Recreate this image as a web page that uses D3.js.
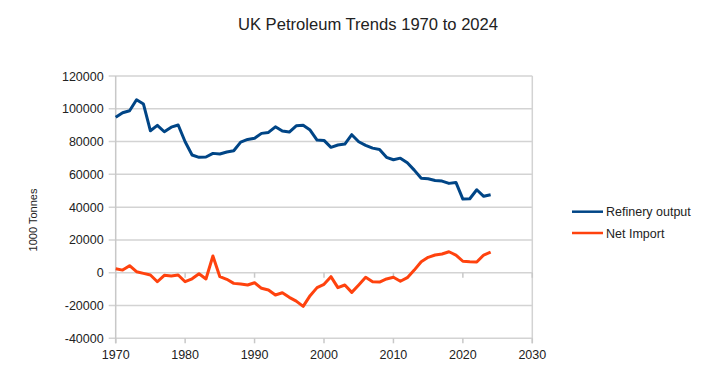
<!DOCTYPE html>
<html>
<head>
<meta charset="utf-8">
<script src="https://cdn.jsdelivr.net/npm/d3@7"></script>
<style>
  body { margin: 0; background: #fff; }
  text { font-family: "Liberation Sans", Arial, sans-serif; fill: #222; }
</style>
</head>
<body>
<script>
const years = d3.range(1970, 2025)
const refinery = [94800, 97600, 98800, 105500, 102900, 86600, 89900, 86000, 88800, 90100,
  79900, 71800, 70400, 70600, 72800, 72400, 73600, 74400, 79700, 81300,
  82000, 85000, 85600, 89000, 86400, 85800, 89600, 89900, 87000, 80900,
  80700, 76500, 77900, 78500, 84200, 79900, 77700, 76000, 75200, 70400,
  68900, 69900, 67100, 62600, 57600, 57300, 56300, 55900, 54500, 55100,
  44900, 45100, 50600, 46600, 47600]
const netImport = [2400, 1600, 4300, 600, -400, -1400, -5500, -1600, -2000, -1400,
  -5500, -3700, -600, -3800, 10200, -2400, -4000, -6500, -6900, -7500,
  -6100, -9500, -10500, -13600, -12200, -15000, -17300, -20500, -14000, -9100,
  -7100, -2400, -9100, -7500, -12000, -7500, -2800, -5500, -5700, -3800,
  -2800, -5200, -3000, 1600, 6700, 9400, 10800, 11400, 12800, 10800,
  7000, 6700, 6500, 10800, 12600]
const seriesNames = ['Refinery output', 'Net Import']
const seriesColors = ['#004586', '#ff420e']
const xTicks = d3.range(1970, 2031, 10)
const yTicks = d3.range(-40000, 120001, 20000)

const w = 720
const h = 373
const plotL = 115.7, plotR = 532.3, plotT = 76, plotB = 338.3

const svg = d3.select('body').append('svg')
  .attr('width', w)
  .attr('height', h)

const x = d3.scaleLinear().domain([1970, 2030]).range([plotL, plotR])
const y = d3.scaleLinear().domain([-40000, 120000]).range([plotB, plotT])

// gridlines
svg.append('g').selectAll('line')
  .data(yTicks)
  .enter().append('line')
  .attr('x1', plotL - 7).attr('x2', plotR)
  .attr('y1', d => y(d)).attr('y2', d => y(d))
  .attr('stroke', '#d3d3d3')
  .attr('stroke-width', 1.5)

// frame left / right
svg.append('line')
  .attr('x1', plotL).attr('x2', plotL).attr('y1', plotT).attr('y2', plotB + 5)
  .attr('stroke', '#c8c8c8').attr('stroke-width', 1.5)
svg.append('line')
  .attr('x1', plotR).attr('x2', plotR).attr('y1', plotT).attr('y2', plotB + 5)
  .attr('stroke', '#d3d3d3').attr('stroke-width', 1.5)

// x ticks at zero line and bottom
svg.append('g').selectAll('line')
  .data(xTicks)
  .enter().append('line')
  .attr('x1', d => x(d)).attr('x2', d => x(d))
  .attr('y1', y(0)).attr('y2', y(0) + 5)
  .attr('stroke', '#c8c8c8').attr('stroke-width', 1.5)
svg.append('g').selectAll('line')
  .data(xTicks)
  .enter().append('line')
  .attr('x1', d => x(d)).attr('x2', d => x(d))
  .attr('y1', plotB).attr('y2', plotB + 5)
  .attr('stroke', '#c8c8c8').attr('stroke-width', 1.5)

// tick labels
svg.append('g').selectAll('text')
  .data(yTicks)
  .enter().append('text')
  .attr('x', plotL - 12)
  .attr('y', d => y(d) + 4.5)
  .attr('text-anchor', 'end')
  .style('font-size', '12.5px')
  .text(d => d)

svg.append('g').selectAll('text')
  .data(xTicks)
  .enter().append('text')
  .attr('x', d => x(d))
  .attr('y', plotB + 21)
  .attr('text-anchor', 'middle')
  .style('font-size', '12.5px')
  .text(d => d)

// lines
const data = [refinery, netImport]
const line = d3.line()
  .x((d, i) => x(years[i]))
  .y(d => y(d))

svg.append('g').selectAll('path')
  .data(data)
  .enter().append('path')
  .attr('d', d => line(d))
  .attr('fill', 'none')
  .attr('stroke', (d, i) => seriesColors[i])
  .attr('stroke-width', 3)
  .attr('stroke-linejoin', 'round')

// title
svg.append('text')
  .attr('x', 368)
  .attr('y', 30)
  .attr('text-anchor', 'middle')
  .style('font-size', '16.6px')
  .text('UK Petroleum Trends 1970 to 2024')

// y axis label
svg.append('text')
  .attr('transform', 'translate(37,220) rotate(-90)')
  .attr('text-anchor', 'middle')
  .style('font-size', '11px')
  .text('1000 Tonnes')

// legend
const legend = svg.append('g').selectAll('g')
  .data(seriesNames)
  .enter().append('g')
  .attr('transform', (d, i) => 'translate(572,' + (211.7 + i * 21.3) + ')')
legend.append('line')
  .attr('x1', 0).attr('x2', 31)
  .attr('stroke', (d, i) => seriesColors[i])
  .attr('stroke-width', 2.5)
legend.append('text')
  .attr('x', 34)
  .attr('y', 4.5)
  .style('font-size', '12.5px')
  .text(d => d)
</script>
</body>
</html>
